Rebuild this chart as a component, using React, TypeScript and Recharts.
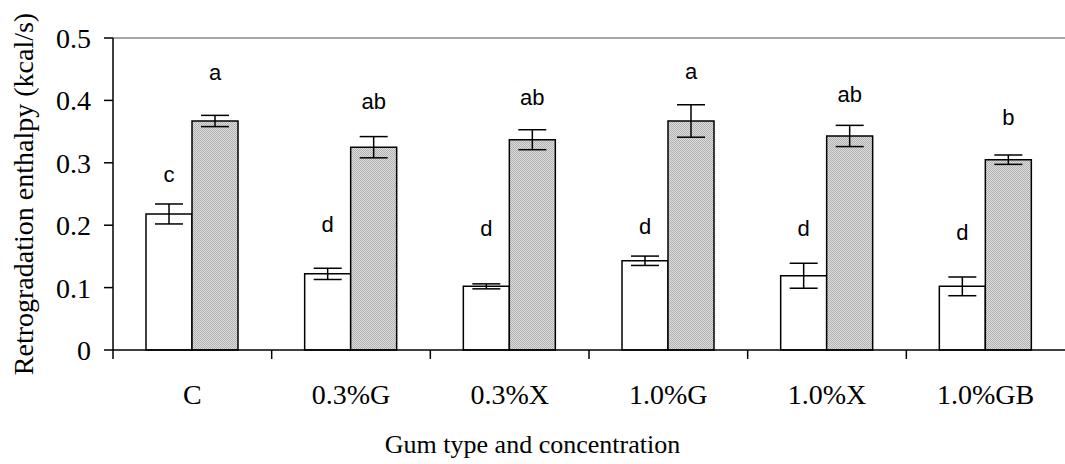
import React from 'react';
import { BarChart, Bar, XAxis, YAxis, ErrorBar, LabelList, ReferenceLine } from 'recharts';

const categories = ['C', '0.3%G', '0.3%X', '1.0%G', '1.0%X', '1.0%GB'];
const fresh = [0.218, 0.122, 0.102, 0.143, 0.119, 0.102];
const freshErr = [0.016, 0.009, 0.004, 0.0075, 0.02, 0.015];
const stored = [0.367, 0.325, 0.337, 0.367, 0.343, 0.305];
const storedErr = [0.009, 0.017, 0.016, 0.026, 0.017, 0.0075];
const freshLetters = ['c', 'd', 'd', 'd', 'd', 'd'];
const storedLetters = ['a', 'ab', 'ab', 'a', 'ab', 'b'];
const freshLetterPos = [0.281, 0.201, 0.194, 0.198, 0.194, 0.188];
const storedLetterPos = [0.444, 0.398, 0.404, 0.446, 0.409, 0.372];
const yTicks = [0, 0.1, 0.2, 0.3, 0.4, 0.5];
const yTitle = 'Retrogradation enthalpy (kcal/s)';
const xTitle = 'Gum type and concentration';

const data = categories.map((c, i) => ({
  name: c,
  fresh: fresh[i],
  freshErr: freshErr[i],
  stored: stored[i],
  storedErr: storedErr[i],
}));

const W = 1065;
const H = 464;
const YW = 113;
const MARGIN = { top: 38, right: 0, bottom: 0, left: 0 };
const PLOT_BOTTOM = 350;
const BAND = (W - YW - MARGIN.right - MARGIN.left) / categories.length;
const SERIF = '"Liberation Serif", "Times New Roman", serif';
const SANS = '"Liberation Sans", Arial, sans-serif';

const XTick = (props: any) => {
  const { x, y, payload } = props;
  return (
    <g>
      <line x1={x - BAND / 2} x2={x - BAND / 2} y1={y} y2={y + 9} stroke="#000" strokeWidth={1.5} />
      <text x={x} y={y + 54} textAnchor="middle" fontFamily={SERIF} fontSize={28} fill="#000">
        {payload.value}
      </text>
    </g>
  );
};

const makeLetter = (letters: string[], pos: number[], values: number[]) => (props: any) => {
  const { x, y, width, height, index } = props;
  const scale = height / values[index];
  const ly = y + height - pos[index] * scale;
  return (
    <text
      x={x + width / 2}
      y={ly}
      textAnchor="middle"
      dominantBaseline="central"
      fontFamily={SANS}
      fontSize={22}
      fill="#000"
    >
      {letters[index]}
    </text>
  );
};

export default function App() {
  const yMid = (MARGIN.top + PLOT_BOTTOM) / 2;
  return (
    <div style={{ position: 'absolute', left: 0, top: 0, width: W, height: H, background: '#fff' }}>
      <BarChart width={W} height={H} data={data} margin={MARGIN} barCategoryGap={33} barGap={0}>
        <defs>
          <pattern id="hatch" width="2" height="2" patternUnits="userSpaceOnUse">
            <rect width="2" height="2" fill="#dedede" />
            <rect x="0" y="0" width="1" height="1" fill="#b0b0b0" />
            <rect x="1" y="1" width="1" height="1" fill="#b0b0b0" />
          </pattern>
        </defs>
        <ReferenceLine y={0.5} stroke="#8a8a8a" strokeWidth={1.5} ifOverflow="extendDomain" />
        <XAxis
          dataKey="name"
          height={H - PLOT_BOTTOM}
          tickLine={false}
          tickSize={0}
          tickMargin={0}
          axisLine={{ stroke: '#000', strokeWidth: 1.5 }}
          tick={<XTick />}
          interval={0}
        />
        <YAxis
          width={YW}
          domain={[0, 0.5]}
          ticks={yTicks}
          tickSize={9}
          tickMargin={13}
          tickFormatter={(v: number) => String(v)}
          axisLine={{ stroke: '#000', strokeWidth: 1.5 }}
          tickLine={{ stroke: '#000', strokeWidth: 1.5 }}
          tick={{ fontFamily: SERIF, fontSize: 28, fill: '#000' }}
        />
        <Bar dataKey="fresh" fill="#fff" stroke="#000" strokeWidth={1.5} isAnimationActive={false}>
          <ErrorBar dataKey="freshErr" width={14} stroke="#000" strokeWidth={1.5} direction="y" />
          <LabelList dataKey="fresh" content={makeLetter(freshLetters, freshLetterPos, fresh)} />
        </Bar>
        <Bar dataKey="stored" fill="url(#hatch)" stroke="#000" strokeWidth={1.5} isAnimationActive={false}>
          <ErrorBar dataKey="storedErr" width={14} stroke="#000" strokeWidth={1.5} direction="y" />
          <LabelList dataKey="stored" content={makeLetter(storedLetters, storedLetterPos, stored)} />
        </Bar>
      </BarChart>
      <svg
        width={W}
        height={H}
        style={{ position: 'absolute', left: 0, top: 0, pointerEvents: 'none' }}
      >
        <text
          x={23}
          y={yMid}
          transform={`rotate(-90 23 ${yMid})`}
          textAnchor="middle"
          dominantBaseline="central"
          fontFamily={SERIF}
          fontSize={28}
          fill="#000"
        >
          {yTitle}
        </text>
        <text x={W / 2} y={453} textAnchor="middle" fontFamily={SERIF} fontSize={26} fill="#000">
          {xTitle}
        </text>
      </svg>
    </div>
  );
}
